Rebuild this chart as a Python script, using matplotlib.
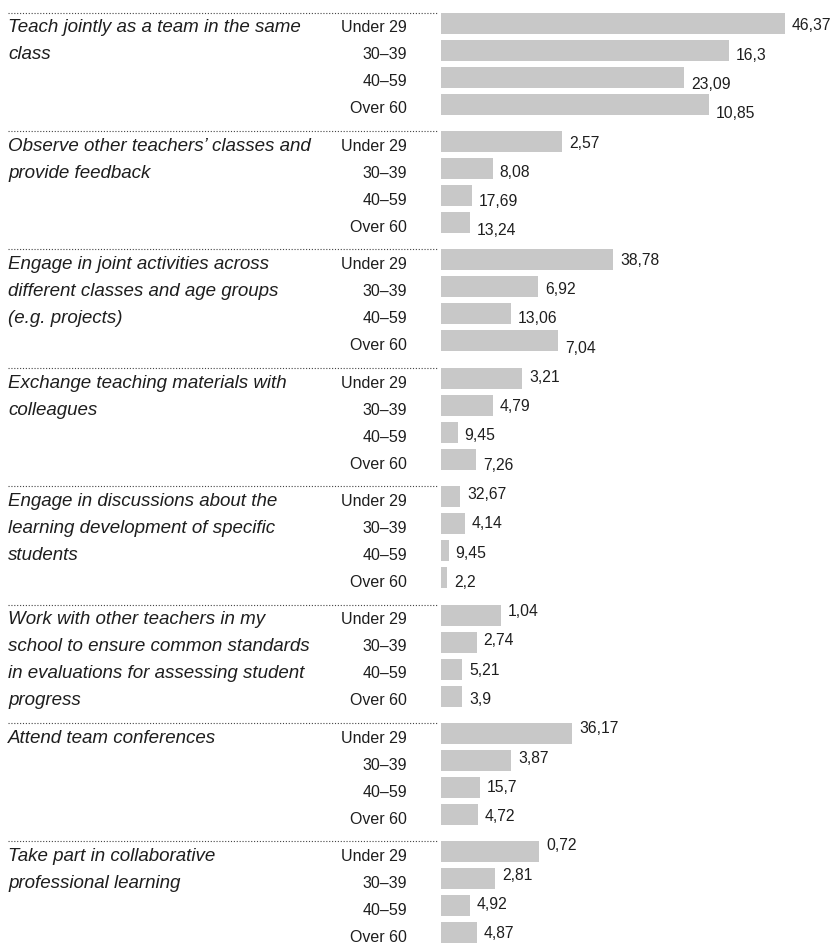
import matplotlib
matplotlib.use("Agg")
import matplotlib.pyplot as plt
from matplotlib import transforms

activities = [
    "Teach jointly as a team in the same\nclass",
    "Observe other teachers\u2019 classes and\nprovide feedback",
    "Engage in joint activities across\ndifferent classes and age groups\n(e.g. projects)",
    "Exchange teaching materials with\ncolleagues",
    "Engage in discussions about the\nlearning development of specific\nstudents",
    "Work with other teachers in my\nschool to ensure common standards\nin evaluations for assessing student\nprogress",
    "Attend team conferences",
    "Take part in collaborative\nprofessional learning",
]
ages = ["Under 29", "30\u201339", "40\u201359", "Over 60"]

# bar lengths, one row of four age groups per activity
bar_len = [
    [49.1, 41.1, 34.7, 38.3],
    [17.3, 7.4, 4.4, 4.1],
    [24.6, 13.9, 10.0, 16.7],
    [11.6, 7.4, 2.4, 5.0],
    [2.7, 3.4, 1.1, 0.9],
    [8.6, 5.1, 3.0, 3.0],
    [18.7, 10.0, 5.6, 5.3],
    [14.0, 7.7, 4.1, 5.1],
]
# printed figures next to the bars
printed = [
    [46.37, 16.3, 23.09, 10.85],
    [2.57, 8.08, 17.69, 13.24],
    [38.78, 6.92, 13.06, 7.04],
    [3.21, 4.79, 9.45, 7.26],
    [32.67, 4.14, 9.45, 2.2],
    [1.04, 2.74, 5.21, 3.9],
    [36.17, 3.87, 15.7, 4.72],
    [0.72, 2.81, 4.92, 4.87],
]

W, H, DPI = 833, 944, 100
sans = ["Liberation Sans", "DejaVu Sans"]
ink = "#1e1e1e"

fig = plt.figure(figsize=(W / DPI, H / DPI), dpi=DPI)
ax = fig.add_axes([441 / W, 0, 392 / W, 1])
ax.set_xlim(0, 56)
ax.set_ylim(H / 27, 0)
ax.axis("off")

row_h = 0.78
top = 12.5 / 27
group_step = 118.4 / 27
lab0 = 30.5 / 27
lab_step = 29.28 / 27

trans = transforms.blended_transform_factory(fig.transFigure, ax.transData)

k = 0
for g, act in enumerate(activities):
    g_top = top + g * group_step
    ax.plot([8 / W, 438 / W], [g_top, g_top], transform=trans, color="#444444",
            lw=0.8, ls=(0, (1, 1.6)), clip_on=False)
    for i in range(4):
        y = g_top + i
        ax.barh(y, bar_len[g][i], height=row_h, left=0, align="edge",
                color="#c8c8c8", linewidth=0)
        t = fig.text(407 / W, 0, ages[i], ha="right", va="baseline",
                     transform=trans, fontsize=11.5, family=sans, color=ink)
        t.set_y(y + row_h - 0.04)
        lbl = str(printed[g][i]).replace(".", ",")
        ax.annotate(lbl, xy=(bar_len[g][i], lab0 + k * lab_step),
                    xytext=(5, 0), textcoords="offset points",
                    ha="left", va="baseline", fontsize=11.3, family=sans,
                    color=ink, annotation_clip=False)
        k += 1
    for j, line in enumerate(act.split("\n")):
        t = fig.text(8 / W, 0, line, ha="left", va="baseline", transform=trans,
                     fontsize=13.5, family=sans, style="italic", color=ink)
        t.set_y(g_top + j + row_h - 0.04)

fig.savefig("out.png", dpi=DPI)
